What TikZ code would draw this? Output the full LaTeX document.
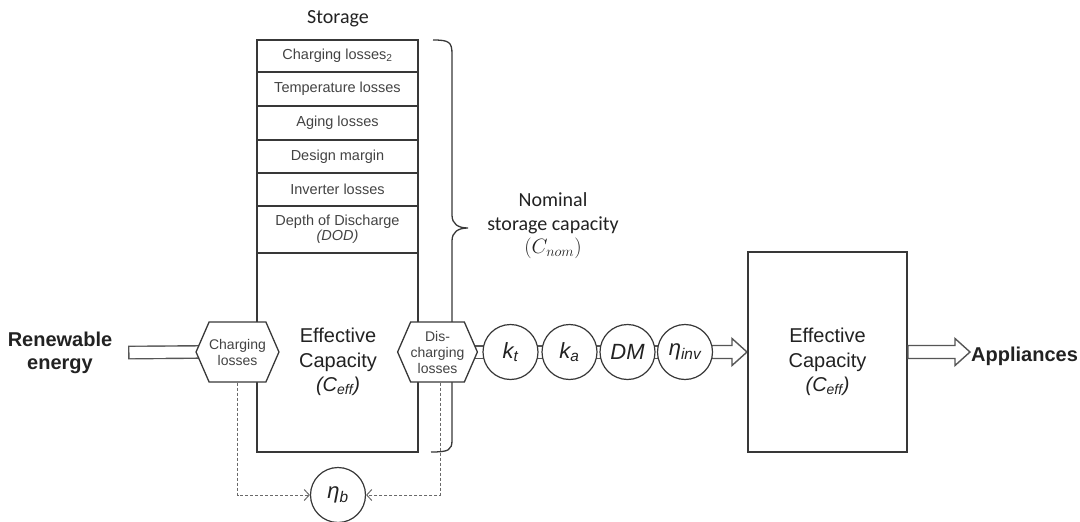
\documentclass[tikz,border=0pt]{standalone}
\usepackage{fontspec}
\setmainfont{Liberation Sans}
\newfontfamily\calibri{Carlito}
\usetikzlibrary{shapes.symbols,arrows.meta,backgrounds,calc}
\definecolor{ink}{HTML}{222222}
\definecolor{edge}{HTML}{383838}
\begin{document}
\begin{tikzpicture}[x=1pt,y=-1pt,
  every node/.style={text=ink},
  wall/.style={draw=edge,line width=2pt},
  row/.style={draw=edge,line width=1.3pt},
  rowtext/.style={font=\fontsize{14.5}{19}\selectfont,text=ink!85,align=center},
  hexa/.style={signal, signal to=east and west, signal pointer angle=133,
    draw=edge, line width=1.3pt, fill=white, minimum width=71pt,
    minimum height=60pt, inner sep=0pt, align=center,
    font=\fontsize{14}{16}\selectfont, text=ink!85},
  factor/.style={circle, draw=edge, line width=1.2pt, fill=white,
    minimum size=55pt, inner sep=0pt, font=\fontsize{22}{24}\selectfont\itshape},
  hollow/.style={draw=edge!85, line width=1.4pt, double=white, double distance=11pt},
  % hollow block arrow from the start point to the target's x position
  blockarrow/.style={draw=edge!85, line width=1.4pt, fill=white, line join=miter,
    to path={let \p1=(\tikztostart), \p2=(\tikztotarget) in
      (\x1,\y1+6.5pt) -- (\x2-15pt,\y1+6.5pt) -- (\x2-15pt,\y1+13.5pt)
      -- (\x2,\y1) -- (\x2-15pt,\y1-13.5pt) -- (\x2-15pt,\y1-6.5pt)
      -- (\x1,\y1-6.5pt) -- cycle}},
  loss/.style={draw=edge!75, line width=1pt, densely dashed,
    -{Straight Barb[length=5pt,width=11pt]}},
  capbox/.style={font=\fontsize{20}{24.5}\selectfont, align=center},
  endlabel/.style={font=\bfseries\fontsize{20}{23}\selectfont, align=center},
  calib/.style={font=\calibri\fontsize{20}{23.5}\selectfont, align=center}
]
\useasboundingbox (0,0) rectangle (1080,522);

% storage column
\node[calib] (storelabel) at (338,19) {Storage};
\node[wall, minimum width=161pt, minimum height=412pt, inner sep=0pt] (store) at (337.5,246) {};
\foreach \yy in {72,106,140,173,206,253}
  \draw[row] (257,\yy) -- (418,\yy);
\node[rowtext] at (337.5,56) {Charging losses\textsubscript{2}};
\node[rowtext] at (337.5,89) {Temperature losses};
\node[rowtext] at (337.5,123) {Aging losses};
\node[rowtext] at (337.5,156.5) {Design margin};
\node[rowtext] at (337.5,189.5) {Inverter losses};
\node[rowtext] at (337.5,229) {Depth of Discharge\\[-4pt]\textit{(DOD)}};
\node[capbox] (effstore) at (338,362) {Effective\\Capacity\\\textit{(C\textsubscript{eff})}};

% brace for the nominal capacity
\draw[edge, line width=1.3pt]
  (433,40) .. controls (449,40) and (452,42) .. (452,54) -- (452,215)
  .. controls (452,224) and (458,228) .. (468,228)
  .. controls (458,228) and (452,232) .. (452,241) -- (452,440)
  .. controls (452,450) and (449,452) .. (431,452);
\node[calib] (nominal) at (553,226) {Nominal\\storage capacity\\$(C_{nom})$};

% loss hexagons
\node[hexa] (chg) at (237.5,352) {Charging\\losses};
\node[hexa] (dis) at (437.5,352) {Dis-\\charging\\losses};

% conversion factors
\node[factor] (kt) at (510.5,352) {k\textsubscript{t}};
\node[factor] (ka) at (569.5,352) {k\textsubscript{a}};
\node[factor] (dm) at (627.5,352) {DM};
\node[factor] (eta) at (685,352) {η\textsubscript{inv}};
\node[factor] (etab) at (338,495) {η\textsubscript{b}};

% delivered capacity
\node[wall, minimum width=159pt, minimum height=200pt, inner sep=0pt] (eff) at (827.5,352) {};
\node[capbox] (effout) at (827.5,362) {Effective\\Capacity\\\textit{(C\textsubscript{eff})}};

% end labels
\node[endlabel] (renew) at (60,353) {Renewable\\energy};
\node[endlabel, anchor=west, inner sep=1pt] (app) at (970,356) {Appliances};
\coordinate (rtail) at (135,352.5);

% energy flow
\begin{scope}[on background layer]
  \draw[hollow, line cap=rect] (rtail) -- (chg.west);
  \draw[hollow] (dis.center) -- (eta.center);
  \draw[blockarrow] (eta.center) to (eff.west);
\end{scope}
\draw[blockarrow] (eff.east) to (app.west);

% battery efficiency feedback
\draw[loss] (chg.south) |- (etab.west);
\draw[loss] ([xshift=2.5pt]dis.south) |- (etab.east);
\end{tikzpicture}
\end{document}
